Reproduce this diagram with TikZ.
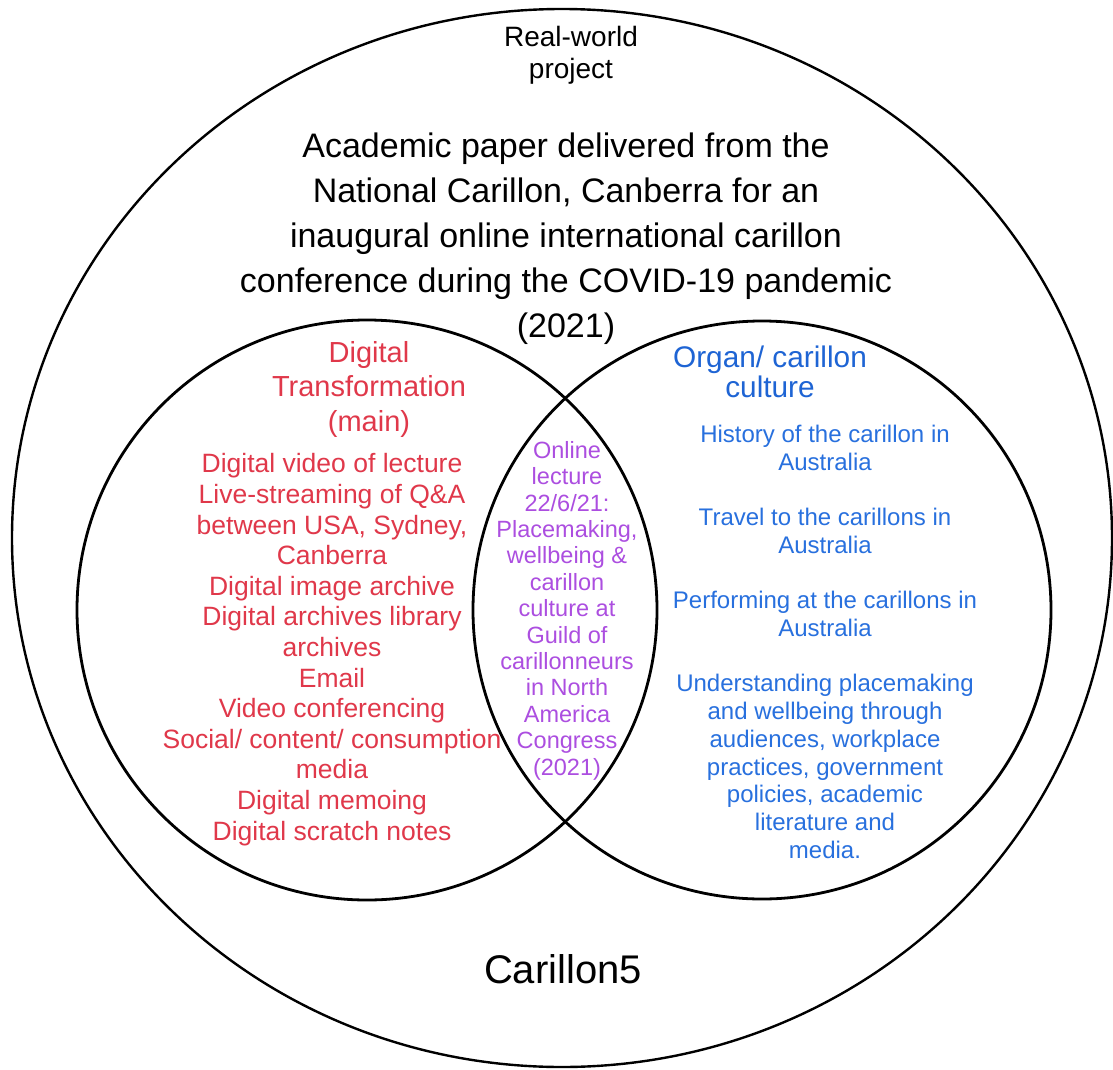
\documentclass[tikz,border=0pt]{standalone}
\usepackage{fontspec}
\setmainfont{Liberation Sans}
\definecolor{dtred}{RGB}{224,56,74}
\definecolor{ocblue}{RGB}{40,112,222}
\definecolor{ochead}{RGB}{30,100,212}
\definecolor{lenspurple}{RGB}{172,78,224}
\begin{document}
\begin{tikzpicture}[x=1pt,y=-1pt]
\tikzset{
  ring/.style={draw=black, line width=2.8pt},
  outerring/.style={draw=black, line width=2.4pt},
  txt/.style={align=center, inner sep=0pt, anchor=base}
}
\fill[white] (0,0) rectangle (1113,1070);
\useasboundingbox (0,0) rectangle (1113,1070);
% circles
\draw[outerring] (562,538) ellipse [x radius=550pt, y radius=529pt];
\draw[ring] (367,610) circle [radius=290pt];
\draw[ring] (762,610) circle [radius=289pt];
% texts (anchor base = baseline of the last line)
\node[txt, font=\fontsize{28}{32}\selectfont] (rw) at (571,79) {Real-world\\project};
\node[txt, font=\fontsize{34}{45}\selectfont] (paper) at (566,337)
  {Academic paper delivered from the\\National Carillon, Canberra for an\\inaugural online international carillon\\conference during the COVID-19 pandemic\\(2021)};
\node[txt, text=dtred, font=\fontsize{29}{34.5}\selectfont] (dthead) at (369,431)
  {Digital\\Transformation\\(main)};
\node[txt, text=dtred, font=\fontsize{26.5}{30.6}\selectfont] (dtlist) at (332,840)
  {Digital video of lecture\\Live-streaming of Q\&A\\between USA, Sydney,\\Canberra\\Digital image archive\\Digital archives library\\archives\\Email\\Video conferencing\\Social/ content/ consumption\\media\\Digital memoing\\Digital scratch notes};
\node[txt, text=lenspurple, font=\fontsize{23.5}{26.4}\selectfont] (lens) at (567,775)
  {Online\\lecture\\22/6/21:\\Placemaking,\\wellbeing \&\\carillon\\culture at\\Guild of\\carillonneurs\\in North\\America\\Congress\\(2021)};
\node[txt, text=ochead, font=\fontsize{29.8}{30}\selectfont] (ochd) at (770,397)
  {Organ/ carillon\\culture};
\node[txt, text=ocblue, font=\fontsize{24}{27.67}\selectfont] (oclist) at (825,858)
  {History of the carillon in\\Australia\\[27.67pt]Travel to the carillons in\\Australia\\[27.67pt]Performing at the carillons in\\Australia\\[27.67pt]Understanding placemaking\\and wellbeing through\\audiences, workplace\\practices, government\\policies, academic\\literature and\\media.};
\node[txt, font=\fontsize{40}{48}\selectfont] (c5) at (563,983) {Carillon5};
\end{tikzpicture}
\end{document}
